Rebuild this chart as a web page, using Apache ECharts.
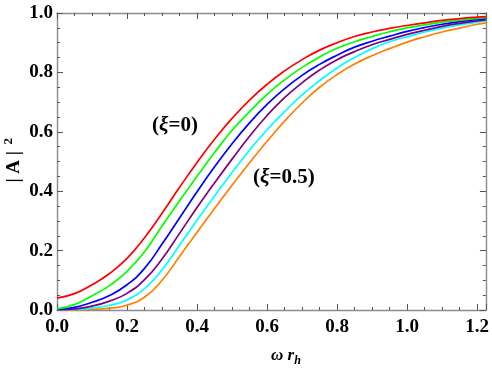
<!DOCTYPE html>
<html>
<head>
<meta charset="utf-8">
<script src="https://cdn.jsdelivr.net/npm/echarts@6/dist/echarts.min.js"></script>
<style>html,body{margin:0;padding:0;background:#fff}#c{width:492px;height:368px}</style>
</head>
<body>
<div id="c"></div>
<script>
// omega * r_h
var xs = [0,0.05,0.1,0.15,0.2,0.25,0.3,0.35,0.4,0.45,0.5,0.55,0.6,0.65,0.7,0.75,0.8,0.85,0.9,0.95,1.0,1.05,1.1,1.15,1.2,1.225];
// |A|^2 for xi = 0 ... 0.5
var red    = [0.040,0.055,0.085,0.123,0.174,0.243,0.326,0.413,0.497,0.575,0.645,0.707,0.760,0.805,0.843,0.875,0.900,0.921,0.936,0.948,0.958,0.967,0.975,0.981,0.986,0.988];
var green  = [0.004,0.018,0.048,0.082,0.130,0.196,0.283,0.368,0.450,0.530,0.605,0.668,0.726,0.775,0.817,0.852,0.881,0.903,0.921,0.937,0.950,0.960,0.969,0.976,0.982,0.984];
var blue   = [0.002,0.009,0.026,0.049,0.085,0.140,0.222,0.310,0.398,0.482,0.560,0.630,0.692,0.745,0.790,0.827,0.858,0.885,0.905,0.922,0.938,0.951,0.962,0.971,0.978,0.981];
var purple = [0.001,0.004,0.013,0.030,0.056,0.102,0.172,0.258,0.345,0.428,0.508,0.585,0.655,0.715,0.765,0.808,0.843,0.870,0.893,0.911,0.928,0.942,0.955,0.965,0.973,0.977];
var cyan   = [0.0005,0.002,0.006,0.016,0.034,0.072,0.135,0.218,0.302,0.384,0.463,0.538,0.607,0.668,0.724,0.772,0.815,0.850,0.880,0.903,0.920,0.936,0.949,0.960,0.969,0.973];
var orange = [0.000,0.001,0.002,0.006,0.016,0.043,0.100,0.180,0.262,0.342,0.420,0.496,0.568,0.636,0.697,0.750,0.793,0.828,0.856,0.880,0.902,0.920,0.936,0.949,0.962,0.967];
var xTicks = ['0.0','0.2','0.4','0.6','0.8','1.0','1.2'];
var yTicks = ['0.0','0.2','0.4','0.6','0.8','1.0'];

var seriesList = [
  {name:'xi0', data:red, color:'#ff0000'},
  {name:'xi1', data:green, color:'#00ff00'},
  {name:'xi2', data:blue, color:'#0000ff'},
  {name:'xi3', data:purple, color:'#800080'},
  {name:'xi4', data:cyan, color:'#00ffff'},
  {name:'xi5', data:orange, color:'#ff8000'}
];

var FONT = 'Liberation Serif';
var frameColor = '#8a8a8a';
var tickColor = '#555';

function lbl(v, ticks){
  var s = v.toFixed(1);
  return ticks.indexOf(s) >= 0 && Math.abs(v*5 - Math.round(v*5)) < 1e-6 ? s : '';
}
function xAx(pos, interval, len, showLabel, showLine){
  return {
    type:'value', position:pos, min:0, max:1.225, interval:interval,
    axisLine:{show:showLine, onZero:false, lineStyle:{color:frameColor, width:1.4}},
    axisTick:{show:true, inside:true, length:len, lineStyle:{color:tickColor, width:1}},
    axisLabel:{show:showLabel, fontFamily:FONT, fontWeight:'bold', fontSize:19, color:'#000', margin:8,
      formatter:function(v){return lbl(v, xTicks);}},
    splitLine:{show:false}
  };
}
function yAx(pos, interval, len, showLabel, showLine){
  return {
    type:'value', position:pos, min:0, max:1, interval:interval,
    axisLine:{show:showLine, onZero:false, lineStyle:{color:frameColor, width:1.4}},
    axisTick:{show:true, inside:true, length:len, lineStyle:{color:tickColor, width:1}},
    axisLabel:{show:showLabel, fontFamily:FONT, fontWeight:'bold', fontSize:19, color:'#000', margin:4,
      formatter:function(v){return lbl(v, yTicks);}},
    splitLine:{show:false}
  };
}

var chart = echarts.init(document.getElementById('c'), null, {renderer:'canvas'});
chart.setOption({
  animation:false,
  backgroundColor:'#fff',
  grid:{left:57, right:6, top:13, bottom:58},
  xAxis:[
    xAx('bottom', 0.2, 6, true, true),
    xAx('bottom', 0.05, 3, false, false),
    xAx('top', 0.2, 6, false, true),
    xAx('top', 0.05, 3, false, false)
  ],
  yAxis:[
    yAx('left', 0.2, 6, true, true),
    yAx('left', 0.05, 3, false, false),
    yAx('right', 0.2, 6, false, true),
    yAx('right', 0.05, 3, false, false)
  ],
  series: seriesList.map(function(s){
    return {
      type:'line', name:s.name, xAxisIndex:0, yAxisIndex:0,
      data: xs.map(function(x,i){return [x, s.data[i]];}),
      showSymbol:false, smooth:0.5,
      lineStyle:{color:s.color, width:1.7}, itemStyle:{color:s.color},
      clip:true, z:10
    };
  }).reverse(),
  graphic:[
    {type:'text', left:2, top:138, style:{
      text:'{b|| A |}{s|  2}', fill:'#000',
      rich:{b:{fontFamily:FONT, fontWeight:'bold', fontSize:19, lineHeight:22, verticalAlign:'bottom', fill:'#000'},
            s:{fontFamily:FONT, fontWeight:'bold', fontSize:13, lineHeight:22, verticalAlign:'top', fill:'#000'}}},
      rotation:Math.PI/2},
    {type:'text', left:271, top:347, style:{
      text:'{a|ω r}{h|h}', fill:'#000',
      rich:{a:{fontFamily:FONT, fontWeight:'bold', fontStyle:'italic', fontSize:17, lineHeight:20, verticalAlign:'top', fill:'#000'},
            h:{fontFamily:FONT, fontWeight:'bold', fontStyle:'italic', fontSize:12, lineHeight:20, verticalAlign:'bottom', fill:'#000'}}}},
    {type:'text', left:152, top:115, style:{
      text:'{n|(}{i|ξ}{n|=0)}',
      rich:{n:{fontFamily:FONT, fontWeight:'bold', fontSize:21, fill:'#000'}, i:{fontFamily:FONT, fontWeight:'bold', fontStyle:'italic', fontSize:21, fill:'#000'}}}},
    {type:'text', left:253, top:167, style:{
      text:'{n|(}{i|ξ}{n|=0.5)}',
      rich:{n:{fontFamily:FONT, fontWeight:'bold', fontSize:21, fill:'#000'}, i:{fontFamily:FONT, fontWeight:'bold', fontStyle:'italic', fontSize:21, fill:'#000'}}}}
  ]
});
</script>
</body>
</html>
